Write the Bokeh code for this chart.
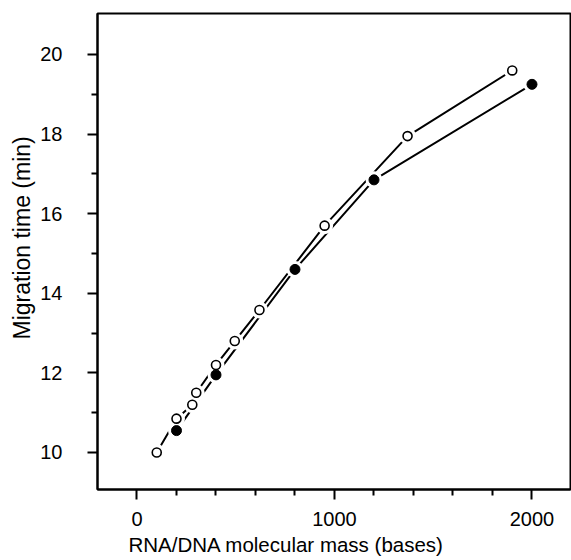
from bokeh.plotting import figure
from bokeh.models import FixedTicker, Range1d, Title
from bokeh.embed import file_html
from bokeh.resources import INLINE

# Data
open_x = [100, 200, 280, 300, 400, 495, 620, 950, 1370, 1900]
open_y = [10.0, 10.85, 11.2, 11.5, 12.2, 12.8, 13.58, 15.7, 17.95, 19.6]
filled_x = [200, 400, 800, 1200, 2000]
filled_y = [10.55, 11.95, 14.6, 16.85, 19.25]

x_ticks = [0, 1000, 2000]
x_minor = [200, 400, 600, 800, 1200, 1400, 1600, 1800]
y_ticks = [10, 12, 14, 16, 18, 20]
y_minor = [11, 13, 15, 17, 19]

x_label = "RNA/DNA molecular mass (bases)"
y_label = "Migration time (min)"

FONT = "Liberation Sans"

p = figure(width=571, height=560, output_backend="svg", toolbar_location=None,
           x_range=Range1d(-200, 2195), y_range=Range1d(9.07, 21.03),
           min_border_left=97, min_border_top=13, min_border_right=1, min_border_bottom=71)
p.background_fill_color = "white"
p.border_fill_color = "white"
p.outline_line_color = "black"
p.outline_line_width = 2
p.grid.visible = False

for ax in (p.xaxis[0], p.yaxis[0]):
    ax.axis_line_width = 2
    ax.major_tick_line_width = 2
    ax.minor_tick_line_width = 2
    ax.major_tick_in = 0
    ax.major_tick_out = 10
    ax.minor_tick_in = 0
    ax.minor_tick_out = 6
    ax.major_label_text_font = FONT
    ax.major_label_text_font_size = "20px"
    ax.major_label_text_color = "black"

p.xaxis.ticker = FixedTicker(ticks=x_ticks, minor_ticks=x_minor)
p.yaxis.ticker = FixedTicker(ticks=y_ticks, minor_ticks=y_minor)
p.xaxis.major_label_standoff = 12
p.yaxis.major_label_standoff = 25

p.add_layout(Title(text=x_label, align="left", offset=31, standoff=4,
                   text_font=FONT, text_font_size="20.5px", text_font_style="normal",
                   text_color="black"), "below")
p.add_layout(Title(text=y_label, align="left", offset=150, standoff=5,
                   text_font=FONT, text_font_size="23px", text_font_style="normal",
                   text_color="black"), "left")

# lines
p.line(open_x, open_y, line_color="black", line_width=2)
p.line(filled_x, filled_y, line_color="black", line_width=2)
# white halos to break the lines near markers
p.scatter(open_x, open_y, size=17, fill_color="white", line_color=None)
p.scatter(filled_x, filled_y, size=17, fill_color="white", line_color=None)
# markers
p.scatter(open_x, open_y, size=9, fill_color="white", line_color="black", line_width=1.6)
p.scatter(filled_x, filled_y, size=10, fill_color="black", line_color="black", line_width=1)

open("out.html", "w").write(file_html(p, INLINE))
